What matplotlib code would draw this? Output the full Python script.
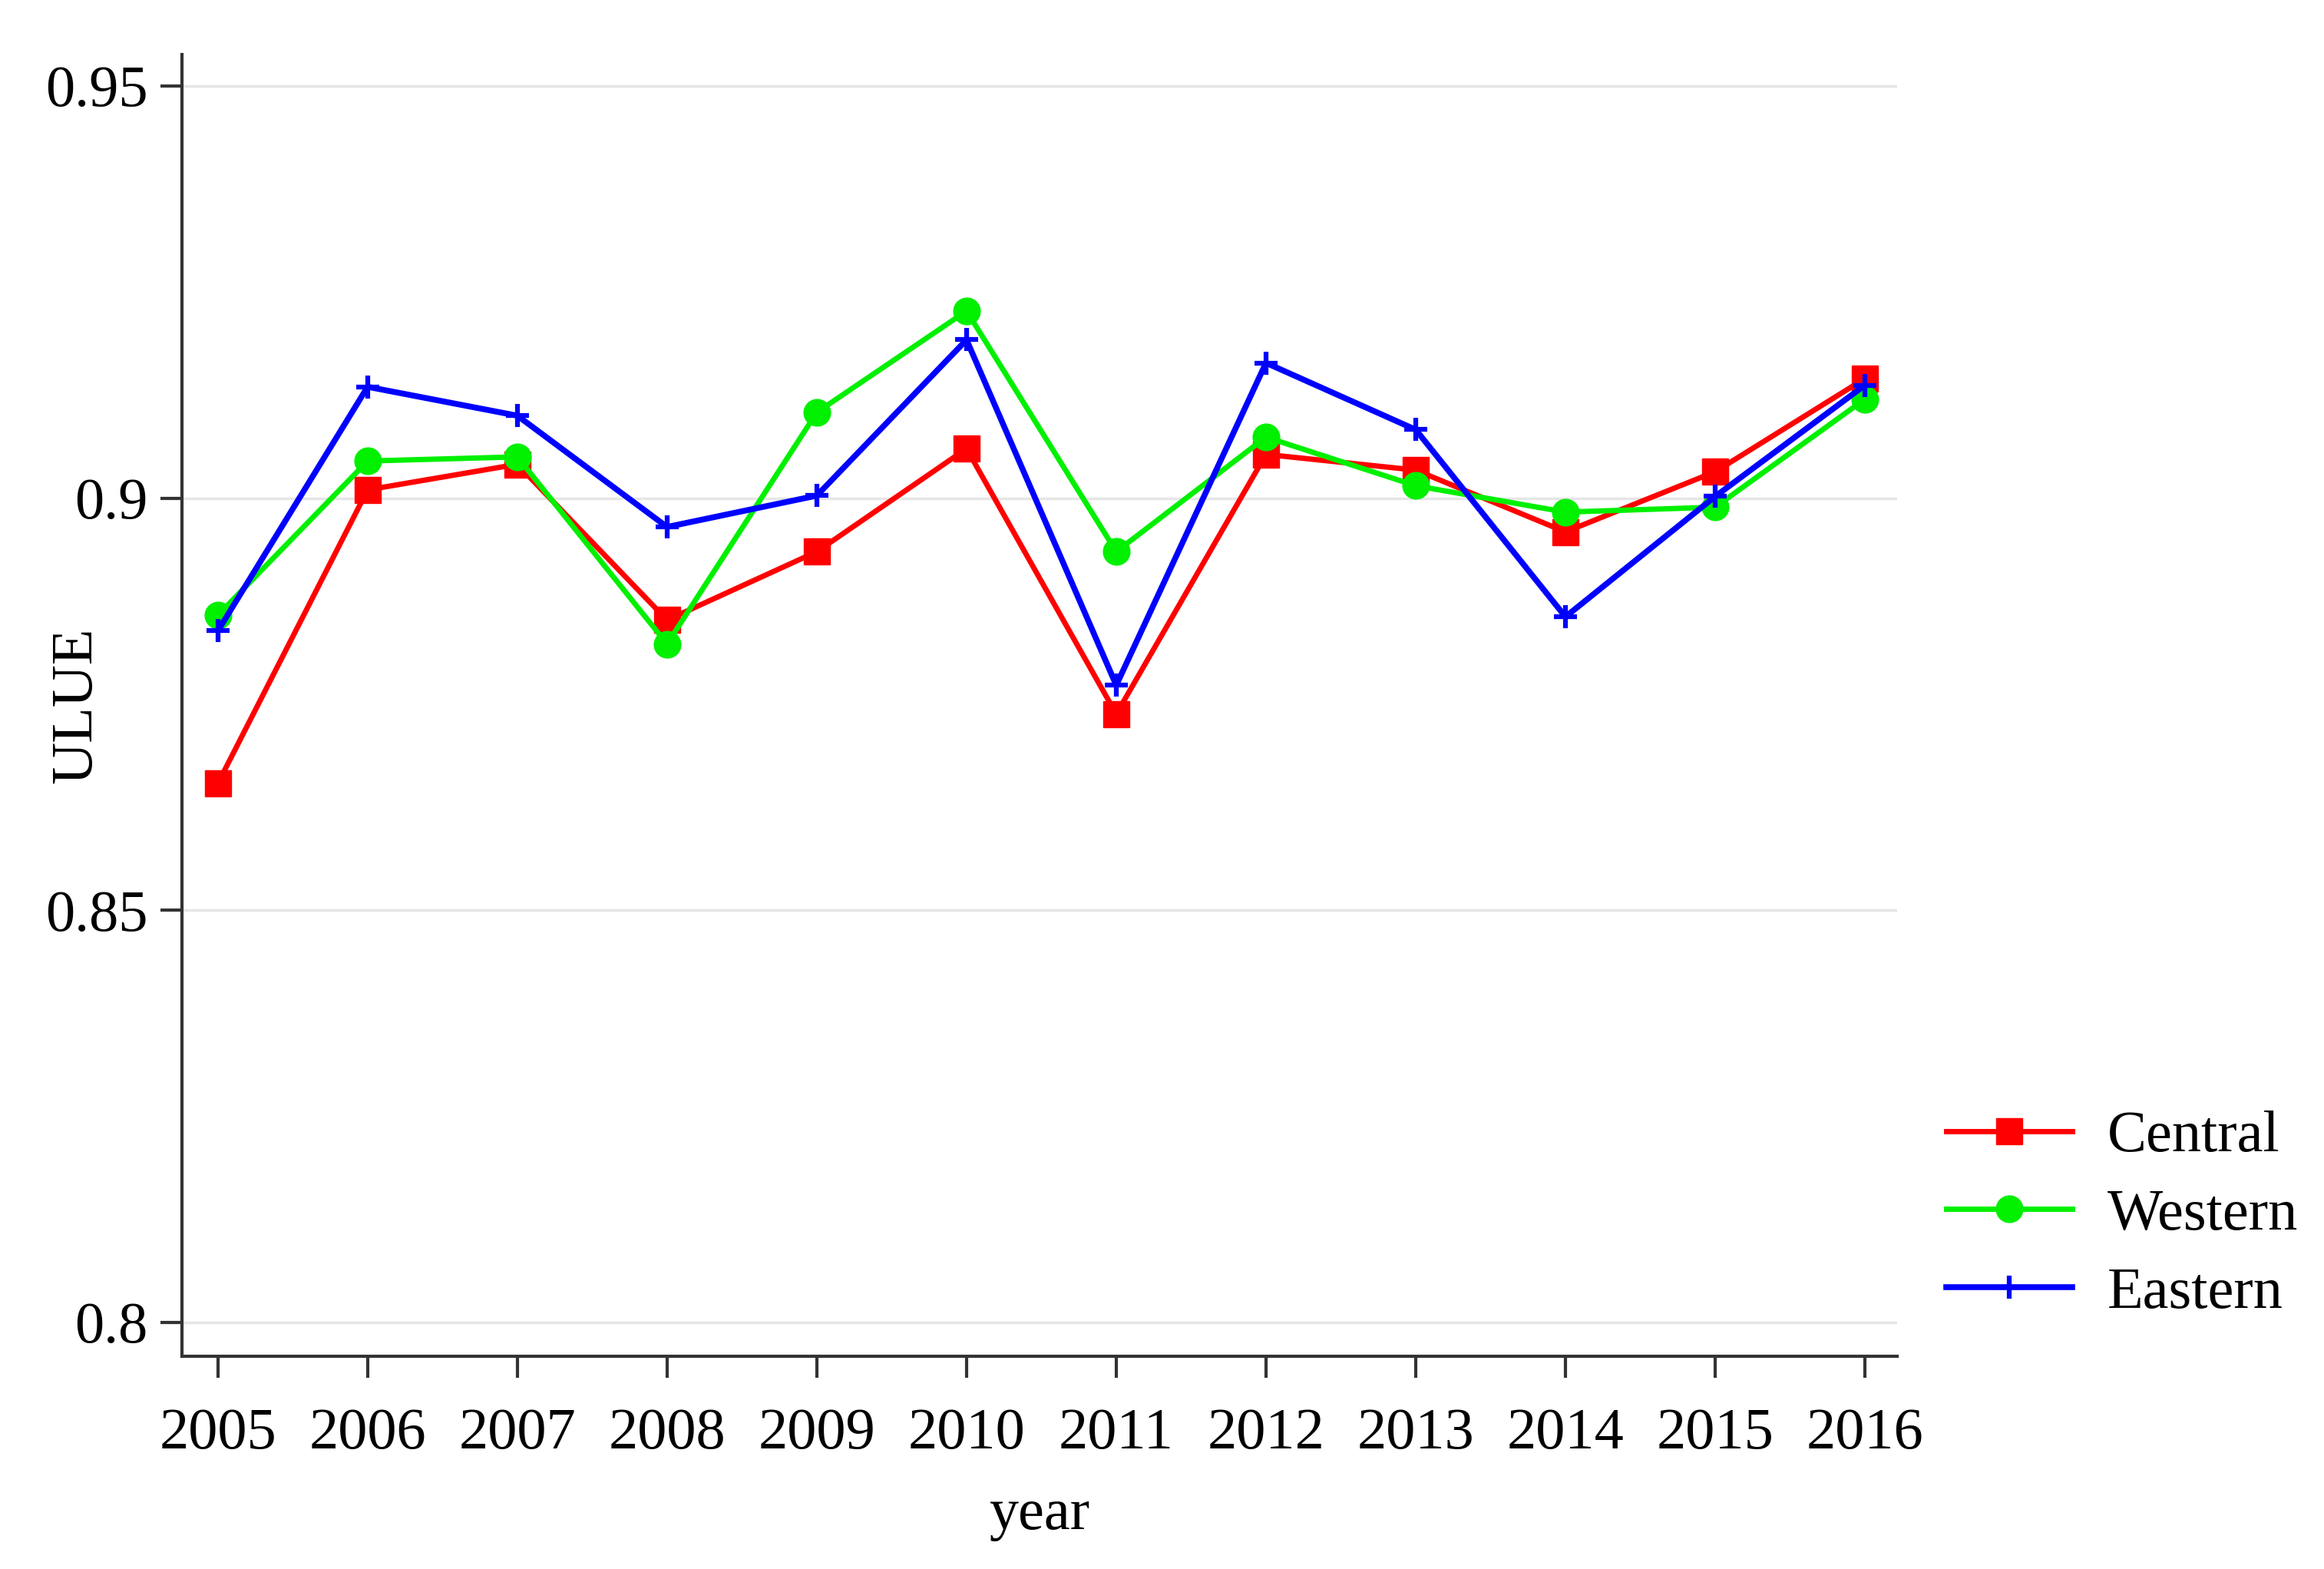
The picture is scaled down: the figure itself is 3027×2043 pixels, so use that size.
import matplotlib
matplotlib.use("Agg")
import matplotlib.pyplot as plt

years = [2005, 2006, 2007, 2008, 2009, 2010, 2011, 2012, 2013, 2014, 2015, 2016]
central = [0.8654, 0.9010, 0.9041, 0.8852, 0.8935, 0.9060, 0.8738, 0.9053, 0.9034, 0.8959, 0.9032, 0.9145]
western = [0.8858, 0.9045, 0.9050, 0.8823, 0.9104, 0.9227, 0.8935, 0.9074, 0.9015, 0.8983, 0.8989, 0.9120]
eastern = [0.8839, 0.9135, 0.9100, 0.8965, 0.9003, 0.9192, 0.8773, 0.9164, 0.9083, 0.8856, 0.9002, 0.9137]
yticks = [0.8, 0.85, 0.9, 0.95]
ytick_labels = ["0.8", "0.85", "0.9", "0.95"]

plt.rcParams['font.family'] = ['Liberation Serif', 'DejaVu Serif']
FS = 55

fig = plt.figure(figsize=(30.27, 20.43), dpi=100)
ax = fig.add_axes([0.0783, 0.1356, 0.8163 - 0.0783, 0.9652 - 0.1356])

ax.plot(years, central, color='#ff0000', lw=5.0, marker='s', ms=25, label='Central', zorder=3)
ax.plot(years, western, color='#00f000', lw=5.0, marker='o', ms=25, label='Western', zorder=3)
ax.plot(years, eastern, color='#0000ff', lw=5.5, marker='+', ms=22, mew=4.5, label='Eastern', zorder=4)

ax.set_xlim(2004.76, 2016.215)
ax.set_ylim(0.7959, 0.9538)
ax.set_xticks(years)
ax.set_xticklabels([str(y) for y in years])
ax.set_yticks(yticks)
ax.set_yticklabels(ytick_labels)

ax.grid(axis='y', color='#e6e6e6', lw=2.5, zorder=0)
ax.set_axisbelow(True)
for s in ['top', 'right']:
    ax.spines[s].set_visible(False)
for s in ['left', 'bottom']:
    ax.spines[s].set_color('#333333')
    ax.spines[s].set_linewidth(3)

ax.tick_params(axis='both', labelsize=FS, length=20, width=3, color='#333333', direction='out')
ax.tick_params(axis='x', pad=28)
ax.tick_params(axis='y', pad=12)

ax.set_xlabel('year', fontsize=FS, labelpad=26)
ax.set_ylabel('ULUE', fontsize=FS, va='center')
ax.yaxis.set_label_coords(-0.0613, 0.5)

fig.legend(loc='center left', bbox_to_anchor=(0.8375, 0.2255), frameon=False,
           fontsize=FS, handlelength=2.15, handletextpad=0.6, labelspacing=0.42,
           borderpad=0, borderaxespad=0)

fig.savefig('out.png', dpi=100, facecolor='white')
